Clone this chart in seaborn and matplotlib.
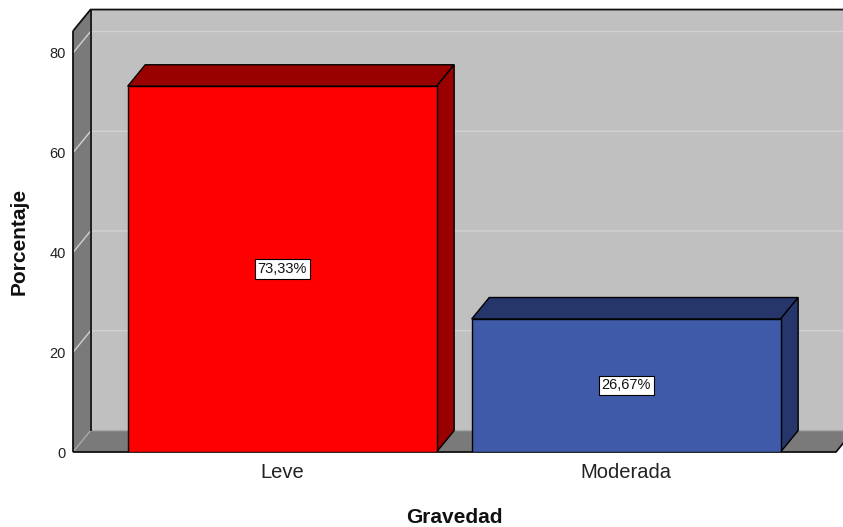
import numpy as np
import pandas as pd
import matplotlib
matplotlib.use('Agg')
import matplotlib.pyplot as plt
import seaborn as sns
from matplotlib.patches import Polygon

# Datos
categorias = ['Leve', 'Moderada']
porcentajes = [73.33, 26.67]
etiquetas = ['73,33%', '26,67%']
colores_frente = ['#FF0000', '#3F5AA8']
colores_sombra = ['#990000', '#26366A']
yticks = [0, 20, 40, 60, 80]

sns.set_style('white')
plt.rcParams['font.family'] = ['Liberation Sans', 'DejaVu Sans']

fig = plt.figure(figsize=(8.43, 5.27), dpi=100)
ax = fig.add_axes([73 / 843, 75 / 527, 763 / 843, 421 / 527])
ax.patch.set_visible(False)

df = pd.DataFrame({'Gravedad': categorias, 'Porcentaje': porcentajes})
sns.barplot(data=df, x='Gravedad', y='Porcentaje', hue='Gravedad',
            palette=colores_frente, saturation=1, width=0.898, edgecolor='black',
            linewidth=1, legend=False, ax=ax, zorder=5)
bars = list(ax.patches)

xmin, xmax = -0.608, 1.61
ymax = 84.4
ax.set_xlim(xmin, xmax)
ax.set_ylim(0, ymax)
dx, dy = 0.051, 4.3

# pared del fondo, pared lateral y suelo
ax.add_patch(Polygon([(xmin + dx, dy), (xmax + dx, dy), (xmax + dx, ymax + dy), (xmin + dx, ymax + dy)],
                     closed=True, fc='#C0C0C0', ec='none', zorder=0, clip_on=False))
ax.add_patch(Polygon([(xmin, 0), (xmin, ymax), (xmin + dx, ymax + dy), (xmin + dx, dy)],
                     closed=True, fc='#7A7A7A', ec='none', zorder=0.5, clip_on=False))
ax.add_patch(Polygon([(xmin, 0), (xmax, 0), (xmax + dx, dy), (xmin + dx, dy)],
                     closed=True, fc='#7A7A7A', ec='none', zorder=0.5, clip_on=False))

# lineas de cuadricula
for t in yticks[1:]:
    ax.plot([xmin, xmin + dx, xmax + dx], [t, t + dy, t + dy], color='#D2D2D2', lw=1, zorder=1, clip_on=False)
ax.plot([xmin, xmin + dx, xmax + dx], [0, dy, dy], color='#A8A8A8', lw=1, zorder=1, clip_on=False)

# bordes
kw = dict(color='#111111', lw=1.3, zorder=2, clip_on=False, solid_capstyle='butt')
ax.plot([xmin, xmin], [0, ymax], **kw)
ax.plot([xmin, xmin + dx, xmax + dx], [ymax, ymax + dy, ymax + dy], **kw)
ax.plot([xmin + dx, xmin + dx], [dy, ymax + dy], **kw)
ax.plot([xmin, xmax, xmax + dx], [0, 0, dy], **kw)

# caras 3D de las barras
for bar, dark, lab in zip(bars, colores_sombra, etiquetas):
    x0 = bar.get_x()
    w = bar.get_width()
    h = bar.get_height()
    x1 = x0 + w
    ax.add_patch(Polygon([(x0, h), (x1, h), (x1 + dx, h + dy), (x0 + dx, h + dy)],
                         closed=True, fc=dark, ec='black', lw=1, zorder=4))
    ax.add_patch(Polygon([(x1, 0), (x1 + dx, dy), (x1 + dx, h + dy), (x1, h)],
                         closed=True, fc=dark, ec='black', lw=1, zorder=4))
    ax.text(x0 + w / 2, h / 2, lab, ha='center', va='center', fontsize=10.5, color='#111111', zorder=6,
            bbox=dict(boxstyle='square,pad=0.2', fc='white', ec='black', lw=0.8))

ax.set_yticks(yticks)
ax.tick_params(axis='y', length=0, pad=5, labelsize=10.5, labelcolor='#222222')
ax.tick_params(axis='x', length=0, pad=8, labelsize=14.5, labelcolor='#222222')
for s in ax.spines.values():
    s.set_visible(False)

ax.set_xlabel('Gravedad', fontsize=15, fontweight='bold', color='#111111')
ax.set_ylabel('Porcentaje', fontsize=15, fontweight='bold', color='#111111')
ax.xaxis.set_label_coords(0.4993, -0.132)
ax.yaxis.set_label_coords(-0.058, 0.5)

fig.savefig('out.png', dpi=100)
